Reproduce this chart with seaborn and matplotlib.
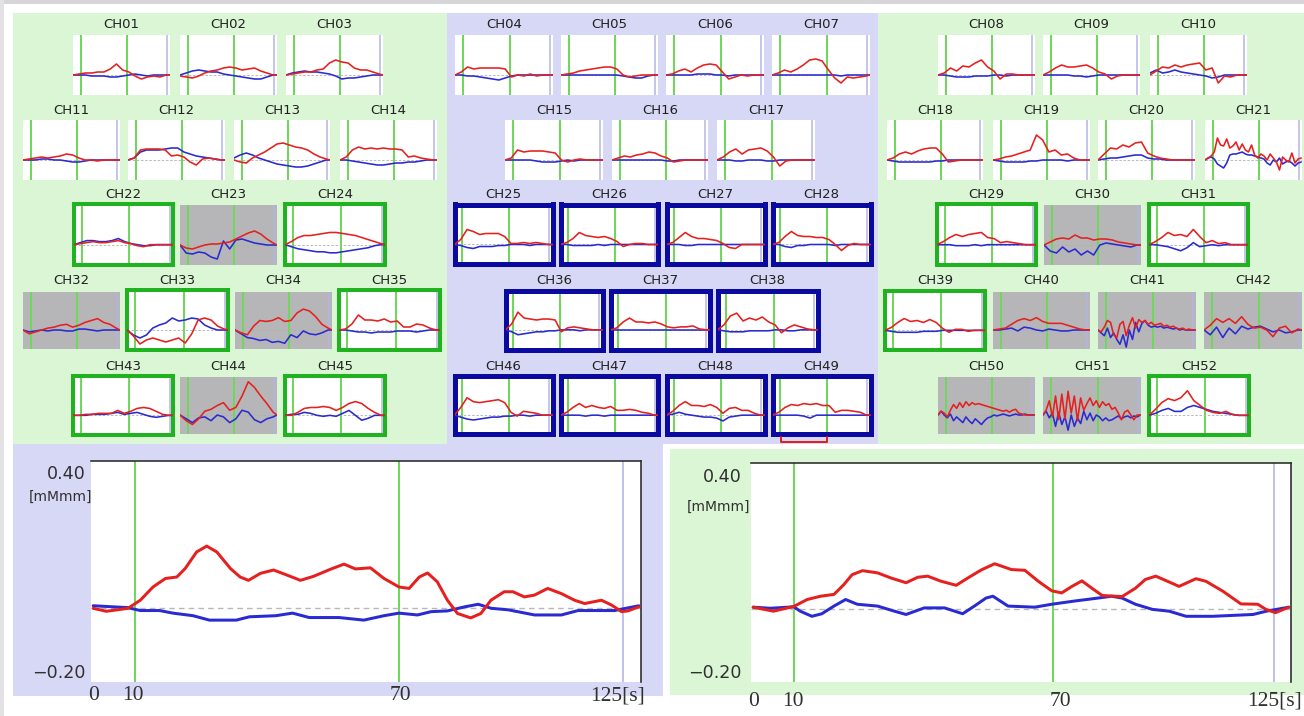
import matplotlib
matplotlib.use("Agg")
import matplotlib.pyplot as plt
from matplotlib.patches import Rectangle
from matplotlib.lines import Line2D
import seaborn as sns

# ---- data -------------------------------------------------------------
# time grids of the small channel plots [s]
T_SMALL = [0, 8, 16, 24, 32, 40, 48, 56, 64, 72, 80, 88, 96, 104, 112, 120, 125]
T_FINE = [0, 4, 8, 12, 16, 20, 24, 28, 32, 36, 40, 44, 48, 52, 56, 60,
          64, 68, 72, 76, 80, 84, 88, 92, 96, 100, 104, 108, 112, 116, 120, 124]

# oxy-Hb (red) / deoxy-Hb (blue) per channel [mMmm]
CH01_OXY = [0, 0.01, 0.02, 0.02, 0.03, 0.03, 0.06, 0.11, 0.05, 0.03, -0.01, -0.04, -0.02, -0.01, -0.02, 0, 0]
CH01_DEOXY = [0, 0, 0, -0.01, -0.01, -0.01, -0.02, -0.02, -0.01, 0, 0.01, 0, -0.01, 0, 0, 0, 0]
CH02_OXY = [-0.01, -0.02, -0.03, -0.01, 0.02, 0.04, 0.05, 0.07, 0.08, 0.07, 0.05, 0.06, 0.07, 0.04, 0.02, 0, 0]
CH02_DEOXY = [0, 0.02, 0.04, 0.05, 0.04, 0.03, 0.03, 0.01, 0, -0.01, -0.02, -0.03, -0.04, -0.04, -0.02, 0, 0]
CH03_OXY = [0, 0.01, 0.02, 0.03, 0.03, 0.05, 0.06, 0.12, 0.15, 0.13, 0.12, 0.07, 0.05, 0.05, 0.03, 0.01, 0]
CH03_DEOXY = [0, 0.02, 0.03, 0.04, 0.03, 0.03, 0.02, 0.01, -0.01, -0.04, -0.03, -0.03, -0.02, -0.01, 0, 0, 0]
CH04_OXY = [0, 0.03, 0.08, 0.06, 0.07, 0.07, 0.07, 0.07, 0.06, -0.02, 0, -0.01, 0.01, -0.01, 0, 0, 0]
CH04_DEOXY = [0, 0, -0.01, -0.01, -0.02, -0.03, -0.04, -0.05, -0.03, -0.01, 0, 0, 0, 0, 0, 0, 0]
CH05_OXY = [0, 0.01, 0.02, 0.04, 0.05, 0.06, 0.07, 0.08, 0.08, 0.06, 0, -0.02, -0.01, 0, 0, 0, 0]
CH05_DEOXY = [0, 0, 0, 0, 0, 0, 0, 0, 0, 0, -0.01, -0.02, -0.03, -0.03, -0.01, 0, 0]
CH06_OXY = [0, 0.01, 0.04, 0.06, 0.03, 0.07, 0.10, 0.11, 0.10, 0.03, -0.04, -0.02, 0, -0.01, 0, 0, 0]
CH06_DEOXY = [0, 0, 0, 0, 0, 0.01, 0.01, 0.01, 0, 0, -0.01, 0, 0, 0, 0, 0, 0]
CH07_OXY = [0, 0.02, 0.05, 0.03, 0.06, 0.10, 0.15, 0.16, 0.14, 0.05, -0.03, -0.08, -0.02, -0.03, -0.02, -0.01, 0]
CH07_DEOXY = [0, 0, 0, 0, 0, 0, 0, 0, 0, 0, 0, -0.01, 0, 0, 0, 0, 0]
CH08_OXY = [0, 0.02, 0.07, 0.04, 0.09, 0.08, 0.12, 0.15, 0.08, 0.04, -0.04, 0.01, 0.01, 0, 0, 0, 0]
CH08_DEOXY = [0, 0, -0.01, -0.02, -0.02, -0.02, -0.01, -0.01, -0.01, 0, 0, -0.01, 0, 0, 0, 0, 0]
CH09_OXY = [0, 0.03, 0.07, 0.10, 0.08, 0.08, 0.09, 0.10, 0.07, 0.03, 0.01, -0.04, -0.01, 0, 0, 0, 0]
CH09_DEOXY = [0, 0, 0, 0, 0, -0.01, -0.01, -0.02, -0.01, 0, 0, 0, 0, 0, 0, 0, 0]
CH10_OXY = [0, 0.04, 0.08, 0.07, 0.10, 0.08, 0.10, 0.11, 0.12, 0.05, 0.07, -0.08, -0.01, -0.02, 0, 0, 0]
CH10_DEOXY = [0.02, 0.05, 0.02, 0.03, 0.05, 0.03, 0.02, 0.01, 0, -0.01, -0.03, -0.02, 0, 0, 0, 0, 0]
CH11_OXY = [0, 0.01, 0.02, 0.03, 0.02, 0.03, 0.04, 0.06, 0.05, 0.02, 0, 0, -0.01, 0, 0, 0, 0]
CH11_DEOXY = [0, 0, 0, 0.01, 0.01, 0, 0, -0.01, -0.02, -0.02, -0.01, 0, 0, 0, 0, 0, 0]
CH12_OXY = [0, 0.02, 0.10, 0.11, 0.11, 0.11, 0.10, 0.04, 0.05, 0.03, -0.02, -0.05, 0.01, 0.02, 0.01, 0, 0]
CH12_DEOXY = [0, 0.02, 0.08, 0.10, 0.10, 0.10, 0.11, 0.12, 0.12, 0.08, 0.06, 0.04, 0.03, 0.02, 0.01, 0, 0]
CH13_OXY = [0, -0.02, -0.03, 0.02, 0.05, 0.08, 0.12, 0.16, 0.17, 0.15, 0.13, 0.12, 0.10, 0.06, 0.03, 0.01, 0]
CH13_DEOXY = [0.02, 0.05, 0.07, 0.05, 0.02, 0, -0.02, -0.04, -0.05, -0.06, -0.07, -0.07, -0.06, -0.04, -0.02, 0, 0]
CH14_OXY = [0, 0.03, 0.10, 0.13, 0.11, 0.12, 0.11, 0.12, 0.11, 0.11, 0.10, 0.03, 0.04, 0.02, 0.01, 0, 0]
CH14_DEOXY = [0, 0, -0.01, -0.02, -0.03, -0.04, -0.05, -0.05, -0.04, -0.03, -0.03, -0.02, -0.02, -0.01, 0, 0, 0]
CH15_OXY = [0, 0.02, 0.10, 0.08, 0.09, 0.09, 0.09, 0.08, 0.07, 0, -0.02, 0, 0.01, 0, 0, 0, 0]
CH15_DEOXY = [0, 0, 0, 0, 0, -0.01, -0.02, -0.02, -0.02, -0.01, 0, -0.01, 0, 0, 0, 0, 0]
CH16_OXY = [0, 0.02, 0.04, 0.03, 0.05, 0.06, 0.08, 0.07, 0.04, 0.02, -0.02, -0.01, 0, 0, 0, 0, 0]
CH16_DEOXY = [0, 0, 0, 0, 0, 0, 0, 0, 0, -0.01, -0.01, 0, 0, 0, 0, 0, 0]
CH17_OXY = [0, 0.03, 0.08, 0.11, 0.06, 0.10, 0.11, 0.12, 0.09, 0.03, -0.06, -0.01, 0, 0, 0, 0, 0]
CH17_DEOXY = [0, 0, 0, -0.01, -0.01, 0, 0, 0, -0.01, -0.01, 0, 0, 0, 0, 0, 0, 0]
CH18_OXY = [0, 0.02, 0.06, 0.08, 0.06, 0.09, 0.11, 0.12, 0.12, 0.06, -0.02, -0.01, 0, 0, 0, 0, 0]
CH18_DEOXY = [0, -0.01, -0.02, -0.02, -0.02, -0.02, -0.02, -0.02, -0.01, -0.01, 0, 0, 0, 0, 0, 0, 0]
CH19_OXY = [0, 0.01, 0.03, 0.04, 0.06, 0.08, 0.10, 0.25, 0.20, 0.08, 0.10, 0.05, 0.06, 0.02, 0, 0, 0]
CH19_DEOXY = [0, -0.01, -0.02, -0.02, -0.02, -0.02, -0.01, -0.01, 0, 0, 0, 0, -0.01, 0, 0, 0, 0]
CH20_OXY = [0, 0.06, 0.12, 0.11, 0.15, 0.13, 0.17, 0.18, 0.07, 0.04, 0.02, 0.01, 0, 0, 0, 0, 0]
CH20_DEOXY = [0, 0.01, 0.02, 0.02, 0.03, 0.04, 0.05, 0.05, 0.02, 0.01, 0.01, 0, 0, 0, 0, 0, 0]
CH21_OXY = [0, 0.02, 0.04, 0.08, 0.22, 0.15, 0.14, 0.21, 0.12, 0.14, 0.18, 0.10, 0.16, 0.10, 0.08, 0.15,
            0.05, 0.02, 0.06, 0.04, 0, 0.06, 0.02, -0.02, -0.10, 0.03, 0, -0.02, 0.07, -0.03, 0.01, 0.02]
CH21_DEOXY = [0, 0.02, 0.03, 0.01, -0.04, -0.06, -0.08, -0.03, 0.05, 0.06, 0.06, 0.07, 0.08, 0.06, 0.05, 0.05,
              0.04, 0.03, 0.02, 0.01, -0.03, -0.05, 0, -0.02, 0.02, -0.04, -0.02, -0.01, -0.03, -0.06, -0.03, -0.02]
CH22_OXY = [0, 0.01, 0.02, 0.03, 0.02, 0.02, 0.03, 0.04, 0.02, 0.01, -0.01, -0.02, 0, 0, 0, 0, 0]
CH22_DEOXY = [0, 0.02, 0.04, 0.04, 0.03, 0.03, 0.04, 0.06, 0.03, 0.01, 0, -0.01, -0.01, 0, 0, 0, 0]
CH23_OXY = [0, -0.03, -0.04, -0.02, 0, 0.01, 0.01, 0.02, 0.03, 0.06, 0.09, 0.12, 0.14, 0.11, 0.06, 0.02, 0]
CH23_DEOXY = [0, -0.08, -0.09, -0.07, -0.08, -0.12, -0.14, 0.04, -0.04, 0.05, 0.06, 0.04, 0.02, 0.01, 0, 0, 0]
CH24_OXY = [0, 0.03, 0.07, 0.09, 0.09, 0.10, 0.11, 0.12, 0.12, 0.11, 0.10, 0.09, 0.07, 0.05, 0.03, 0.01, 0]
CH24_DEOXY = [0, -0.02, -0.04, -0.05, -0.06, -0.07, -0.07, -0.08, -0.08, -0.07, -0.06, -0.05, -0.04, -0.03, -0.01, 0, 0]
CH25_OXY = [0, 0.05, 0.15, 0.13, 0.10, 0.11, 0.11, 0.11, 0.08, 0.01, 0.01, 0.02, 0.01, 0.02, 0.01, 0, 0]
CH25_DEOXY = [0, -0.01, -0.03, -0.04, -0.02, -0.02, -0.02, -0.01, -0.01, 0, 0, 0, -0.01, 0, 0, 0, 0]
CH26_OXY = [0, 0.02, 0.06, 0.12, 0.09, 0.08, 0.07, 0.08, 0.06, 0.03, -0.02, 0, 0.01, 0.01, 0, 0, 0]
CH26_DEOXY = [0, 0, -0.01, -0.01, -0.01, -0.01, 0, -0.01, 0, 0, 0, 0, 0, 0, 0, 0, 0]
CH27_OXY = [0, 0.02, 0.07, 0.12, 0.08, 0.06, 0.06, 0.05, 0.04, 0.01, -0.03, -0.04, 0, 0, 0, 0, 0]
CH27_DEOXY = [0, 0, 0, -0.01, -0.01, 0, 0, 0, 0, 0, 0, 0, 0, 0, 0, 0, 0]
CH28_OXY = [0, 0.02, 0.08, 0.13, 0.09, 0.08, 0.08, 0.07, 0.07, 0.05, 0, -0.06, -0.01, 0.01, 0, 0, 0]
CH28_DEOXY = [0, 0, -0.02, -0.03, -0.01, -0.01, 0, 0, 0, 0, -0.01, 0, 0, 0, 0, 0, 0]
CH29_OXY = [0, 0.03, 0.07, 0.10, 0.08, 0.10, 0.11, 0.12, 0.07, 0.06, 0.02, 0.03, 0.02, 0.01, 0, 0, 0]
CH29_DEOXY = [0, 0, 0, -0.01, -0.01, -0.01, 0, -0.01, 0, 0, 0, 0, 0, 0, 0, 0, 0]
CH30_OXY = [0, 0.03, 0.06, 0.07, 0.06, 0.10, 0.07, 0.07, 0.05, 0.06, 0.06, 0.05, 0.03, 0.02, 0.01, 0, 0]
CH30_DEOXY = [0, -0.06, -0.08, -0.02, -0.07, -0.04, -0.10, -0.06, -0.10, 0, 0.02, 0.01, 0, -0.01, -0.02, 0, 0]
CH31_OXY = [0, 0.03, 0.07, 0.12, 0.09, 0.10, 0.08, 0.15, 0.08, 0.02, 0.04, 0.01, 0.02, 0, 0, 0, 0]
CH31_DEOXY = [0, 0, -0.01, -0.02, -0.04, -0.06, -0.03, 0.02, -0.02, -0.01, 0, -0.01, 0, 0, 0, 0, 0]
CH32_OXY = [0, -0.04, -0.02, 0, 0.02, 0.03, 0.05, 0.06, 0.03, 0.05, 0.08, 0.10, 0.12, 0.08, 0.06, 0.02, 0]
CH32_DEOXY = [0, -0.02, -0.01, 0, -0.01, 0, 0, -0.01, -0.01, 0.01, 0.01, 0, -0.01, 0, 0, 0, 0]
CH33_OXY = [0, -0.06, -0.14, -0.10, -0.08, -0.10, -0.12, -0.10, -0.08, -0.13, -0.04, 0.10, 0.12, 0.10, 0.04, 0.01, 0]
CH33_DEOXY = [0, -0.05, -0.08, -0.05, 0.02, 0.05, 0.07, 0.12, 0.09, 0.10, 0.12, 0.11, 0.05, 0.02, 0, 0, 0]
CH34_OXY = [0, -0.03, -0.05, 0.04, 0.10, 0.09, 0.10, 0.13, 0.09, 0.10, 0.18, 0.22, 0.20, 0.14, 0.06, 0.02, 0]
CH34_DEOXY = [0, -0.04, -0.08, -0.09, -0.11, -0.10, -0.13, -0.12, -0.14, -0.05, -0.08, -0.01, -0.04, -0.05, -0.03, 0, 0]
CH35_OXY = [0, 0.01, 0.06, 0.15, 0.10, 0.10, 0.09, 0.11, 0.08, 0.09, 0.03, 0.03, 0.06, 0.05, 0.02, 0, 0]
CH35_DEOXY = [0, 0, -0.01, -0.02, -0.02, -0.03, -0.02, -0.02, -0.02, -0.01, -0.01, -0.01, -0.02, -0.01, 0, 0, 0]
CH36_OXY = [0, 0.06, 0.18, 0.12, 0.11, 0.10, 0.11, 0.11, 0.10, -0.02, 0.02, 0.03, 0.02, 0.01, 0, 0, 0]
CH36_DEOXY = [0, -0.02, -0.05, -0.04, -0.03, -0.02, -0.02, -0.01, -0.01, 0, 0, 0, -0.01, 0, 0, 0, 0]
CH37_OXY = [0, 0.02, 0.08, 0.12, 0.08, 0.08, 0.07, 0.08, 0.06, 0.03, 0.02, 0.03, 0.03, 0.04, 0.01, 0, 0]
CH37_DEOXY = [0, 0, 0, 0, 0, 0, 0, 0, 0, 0, 0, 0, 0, 0, 0, 0, 0]
CH38_OXY = [0, 0.05, 0.14, 0.17, 0.09, 0.12, 0.10, 0.13, 0.08, 0.05, -0.03, 0.02, 0.05, 0.03, 0.01, 0, 0]
CH38_DEOXY = [0, -0.01, -0.02, -0.02, -0.02, -0.01, -0.01, -0.01, -0.01, 0, 0, -0.01, -0.01, 0, 0, 0, 0]
CH39_OXY = [0, 0.03, 0.08, 0.12, 0.09, 0.10, 0.08, 0.11, 0.08, 0.02, -0.02, 0.01, 0.01, -0.01, 0, 0, 0]
CH39_DEOXY = [0, -0.01, -0.02, -0.02, -0.02, -0.02, -0.01, -0.01, -0.01, 0, 0, 0, 0, 0, 0, 0, 0]
CH40_OXY = [0, 0.01, 0.02, 0.06, 0.10, 0.12, 0.10, 0.13, 0.09, 0.07, 0.07, 0.07, 0.05, 0.03, 0.01, 0, 0]
CH40_DEOXY = [0, 0, 0.01, 0.02, -0.01, 0.03, 0.02, 0, -0.01, 0.01, 0, -0.01, -0.01, 0, 0, 0, 0]
CH41_OXY = [0, -0.02, 0.03, 0.10, 0.08, -0.05, -0.08, 0.06, 0.09, -0.06, 0.05, 0.13, 0.02, 0.11, 0.08, 0.10,
            0.06, 0.08, 0.05, 0.06, 0.07, 0.04, 0.05, 0.03, 0.04, 0.02, 0.01, 0.02, 0, 0.01, 0, 0]
CH41_DEOXY = [0, -0.03, -0.06, 0.02, -0.08, -0.03, -0.10, -0.15, -0.05, -0.18, 0, -0.10, 0.08, -0.02, 0.07, 0.10,
              0.05, 0.03, 0.04, 0.03, 0.04, 0.02, 0.03, 0.02, 0.01, 0.02, 0, 0.01, 0, 0, 0, 0]
CH42_OXY = [0, 0.05, 0.12, 0.08, 0.12, 0.07, 0.14, 0.06, 0.02, 0.03, 0, -0.07, 0.02, 0.04, -0.03, 0.01, 0]
CH42_DEOXY = [0, -0.05, 0.03, -0.08, 0.02, -0.04, 0.04, 0.01, 0.03, 0.04, 0.01, -0.02, 0, -0.03, -0.02, 0, 0]
CH43_OXY = [0, 0, 0.01, 0.01, 0.02, 0.02, 0.02, 0.05, 0.02, 0.04, 0.07, 0.08, 0.07, 0.04, 0.01, 0, 0]
CH43_DEOXY = [0, 0, 0, 0.01, 0.01, 0.01, 0.02, 0.03, 0.01, 0.02, 0.03, 0.01, -0.01, -0.02, -0.01, 0, 0]
CH44_OXY = [0, -0.06, -0.10, -0.04, 0.04, 0.06, 0.10, 0.13, 0.05, 0.08, 0.20, 0.35, 0.29, 0.20, 0.12, 0.03, 0]
CH44_DEOXY = [0, -0.04, -0.08, -0.03, -0.02, -0.06, 0, -0.02, -0.08, -0.04, 0.05, 0.03, -0.05, -0.08, -0.04, -0.02, 0]
CH45_OXY = [0, 0, 0.03, 0.07, 0.08, 0.08, 0.09, 0.08, 0.05, 0.08, 0.12, 0.14, 0.12, 0.07, 0.03, 0, 0]
CH45_DEOXY = [0, 0.01, 0.01, 0.03, 0.02, 0, -0.01, 0, -0.01, 0.02, 0.05, 0, -0.05, -0.03, 0, 0, 0]
CH46_OXY = [0, 0.08, 0.18, 0.14, 0.13, 0.14, 0.15, 0.16, 0.13, 0.03, -0.01, 0.04, 0.03, 0.02, 0, 0, 0]
CH46_DEOXY = [0, -0.02, -0.04, -0.05, -0.04, -0.03, -0.02, -0.02, -0.01, -0.01, 0, 0, -0.01, 0, 0, 0, 0]
CH47_OXY = [0, 0.03, 0.08, 0.12, 0.08, 0.10, 0.08, 0.07, 0.09, 0.05, 0.05, 0.06, 0.05, 0.03, 0.02, 0, 0]
CH47_DEOXY = [0, 0, 0, 0, -0.01, 0, 0, -0.01, 0, 0, 0, 0, 0, 0, 0, 0, 0]
CH48_OXY = [0, 0.04, 0.10, 0.14, 0.10, 0.10, 0.09, 0.11, 0.08, 0.02, 0.07, 0.08, 0.05, 0.05, 0.02, 0, 0]
CH48_DEOXY = [0, 0.01, 0.03, 0.01, 0, -0.01, -0.02, -0.02, -0.03, -0.06, -0.02, -0.01, 0, 0, 0, 0, 0]
CH49_OXY = [0, 0.03, 0.08, 0.11, 0.10, 0.12, 0.11, 0.12, 0.10, 0.10, 0.03, 0.05, 0.05, 0.04, 0.03, 0, 0]
CH49_DEOXY = [0, 0, 0, 0, 0, -0.01, -0.03, 0, 0, 0, 0, 0, 0, 0, 0, 0, 0]
CH50_OXY = [0, 0.04, 0.02, -0.02, 0.05, 0.11, 0.07, 0.13, 0.08, 0.14, 0.10, 0.13, 0.11, 0.12, 0.11, 0.10,
            0.09, 0.08, 0.07, 0.06, 0.05, 0.04, 0.05, 0.03, 0.05, 0.06, 0.02, 0.01, 0, 0, 0, 0]
CH50_DEOXY = [0, 0.04, 0, -0.03, 0.01, -0.06, -0.02, -0.05, -0.08, -0.02, -0.06, -0.09, -0.04, -0.07, -0.10, -0.06,
              -0.03, -0.02, 0, -0.01, 0, 0.01, 0, -0.01, 0, 0.01, 0, 0, 0.01, 0, 0, 0]
CH51_OXY = [0, 0.05, 0.15, -0.02, 0.20, -0.05, 0.22, -0.04, 0.25, 0.02, 0.20, -0.06, 0.18, 0.05, 0.12, 0.18,
            0.10, 0.15, 0.08, 0.14, 0.10, 0.12, 0.06, 0.08, 0.02, -0.05, 0.03, 0.05, 0, -0.05, 0, 0]
CH51_DEOXY = [0, 0.04, -0.03, 0.02, -0.12, 0.03, -0.10, -0.02, -0.16, 0, -0.12, -0.03, -0.09, 0.04, -0.05, 0.02,
              -0.06, 0, -0.02, -0.06, -0.03, -0.06, -0.05, -0.03, -0.01, -0.04, -0.02, -0.01, -0.03, -0.01, -0.02, 0]
CH52_OXY = [0, 0.06, 0.13, 0.17, 0.15, 0.18, 0.25, 0.15, 0.10, 0.05, 0.03, 0.02, 0.04, 0.01, 0, 0, 0]
CH52_DEOXY = [0, 0.02, 0.05, 0.07, 0.04, 0.04, 0.08, 0.10, 0.08, 0.06, 0.04, 0.03, 0.02, 0.01, 0, 0, 0]

# enlarged channels (bottom left / bottom right)
LEFT_OXY_T = [0.5, 3.5, 8.4, 11.2, 14.1, 16.9, 19.5, 21.4, 24, 26.3, 28.6, 31.7, 33.9, 35.8, 38.5, 41.5,
              44.6, 47.6, 50.6, 54.4, 57.5, 60.1, 63.5, 66.6, 70, 72.3, 74.6, 76.5, 78.7, 81, 83.3, 86.3,
              88.6, 90.9, 93.9, 95.9, 98.5, 100.8, 103.8, 106.9, 109.9, 112.2, 116, 118.3, 120.6, 122, 124.5]
LEFT_OXY = [0, -0.008, 0, 0.022, 0.058, 0.081, 0.085, 0.108, 0.153, 0.169, 0.153, 0.108, 0.085, 0.076, 0.095, 0.104,
            0.09, 0.076, 0.087, 0.106, 0.12, 0.107, 0.11, 0.081, 0.058, 0.054, 0.085, 0.096, 0.072, 0.022, -0.014, -0.026,
            -0.014, 0.022, 0.045, 0.045, 0.031, 0.036, 0.054, 0.04, 0.022, 0.013, 0.022, 0.009, -0.009, -0.007, 0.004]
LEFT_DEOXY_T = [0.5, 8.3, 11.2, 15.6, 18.6, 23.2, 26.9, 33, 36, 42, 45.8, 49.6, 56.4, 62, 66.6, 70,
                74.2, 77.3, 81, 84.9, 88, 91, 94.8, 100.8, 106.9, 110.7, 119, 124.5]
LEFT_DEOXY = [0.007, 0.002, -0.006, -0.006, -0.013, -0.02, -0.032, -0.032, -0.023, -0.02, -0.013, -0.025, -0.025, -0.032, -0.02, -0.013,
              -0.018, -0.009, -0.007, 0.004, 0.011, 0, -0.004, -0.018, -0.018, -0.006, -0.006, 0.007]
RIGHT_OXY_T = [0.5, 5.2, 9.9, 13, 16.1, 19.2, 21.5, 23.4, 25.8, 29.3, 32.4, 35.9, 38.6, 40.9, 44, 47.5,
               50.2, 53.3, 56.4, 60.3, 63.4, 66.5, 69.6, 71.9, 74.3, 76.6, 78.9, 81.3, 85.9, 89, 91.3, 93.7,
               96.4, 99.1, 103, 105.3, 109.2, 113.4, 117.3, 119.2, 121.4, 124.5]
RIGHT_OXY = [0.005, -0.006, 0.007, 0.026, 0.035, 0.04, 0.067, 0.094, 0.105, 0.099, 0.085, 0.072, 0.087, 0.09, 0.076, 0.065,
             0.085, 0.107, 0.124, 0.108, 0.106, 0.076, 0.05, 0.044, 0.062, 0.077, 0.057, 0.037, 0.034, 0.057, 0.081, 0.09,
             0.076, 0.062, 0.083, 0.076, 0.049, 0.014, 0.013, -0.001, -0.01, 0.005]
RIGHT_DEOXY_T = [0.5, 4.5, 9.9, 11.4, 14.1, 16.4, 19.2, 21.9, 24.6, 29.3, 33.2, 35.9, 40.1, 44.8, 49, 51.7,
                 54.4, 56, 59.5, 65.7, 69.6, 75, 79.7, 83.5, 85.9, 89, 92.9, 96.8, 100.7, 106.9, 116.2, 119.3, 124.5]
RIGHT_DEOXY = [0.005, 0.002, 0.006, -0.006, -0.02, -0.013, 0.008, 0.026, 0.013, 0.008, -0.006, -0.015, 0.003, 0.003, -0.013, 0.008,
               0.03, 0.035, 0.008, 0.005, 0.013, 0.022, 0.029, 0.035, 0.03, 0.013, -0.001, -0.006, -0.02, -0.02, -0.015, -0.006, 0.005]

TASK_MARKS = [10, 70]
END_MARK = 121
Y_TOP_LABEL = "0.40"
Y_BOTTOM_LABEL = "\u22120.20"
Y_UNIT = "[mMmm]"
X_TICK_LABELS = ["0", "10", "70", "125[s]"]

# ---- layout (pixels) --------------------------------------------------
W, H = 1304, 716
ROW_TITLE_Y = [25, 111, 195, 281, 366]
# channel, row, x0, y0, x1, y1, style (w plain, s gray, g green frame, b blue frame)
PANELS = [
    (1, 0, 73, 35, 170, 95, 'w'), (2, 0, 180, 35, 277, 95, 'w'), (3, 0, 286, 35, 383, 95, 'w'),
    (4, 0, 455, 35, 553, 95, 'w'), (5, 0, 561, 35, 658, 95, 'w'), (6, 0, 666, 35, 764, 95, 'w'),
    (7, 0, 772, 35, 870, 95, 'w'),
    (8, 0, 938, 35, 1035, 95, 'w'), (9, 0, 1043, 35, 1140, 95, 'w'), (10, 0, 1150, 35, 1247, 95, 'w'),
    (11, 1, 23, 120, 120, 180, 'w'), (12, 1, 128, 120, 225, 180, 'w'), (13, 1, 234, 120, 330, 180, 'w'),
    (14, 1, 340, 120, 437, 180, 'w'),
    (15, 1, 505, 120, 603, 180, 'w'), (16, 1, 612, 120, 708, 180, 'w'), (17, 1, 717, 120, 815, 180, 'w'),
    (18, 1, 887, 120, 983, 180, 'w'), (19, 1, 993, 120, 1090, 180, 'w'), (20, 1, 1098, 120, 1195, 180, 'w'),
    (21, 1, 1205, 120, 1302, 180, 'w'),
    (22, 2, 72, 202, 175, 267, 'g'), (23, 2, 180, 205, 277, 265, 's'), (24, 2, 283, 202, 387, 267, 'g'),
    (25, 2, 452, 202, 555, 267, 'b'), (26, 2, 558, 202, 661, 267, 'b'), (27, 2, 664, 202, 767, 267, 'b'),
    (28, 2, 770, 202, 873, 267, 'b'),
    (29, 2, 935, 202, 1038, 267, 'g'), (30, 2, 1044, 205, 1141, 265, 's'), (31, 2, 1147, 202, 1250, 267, 'g'),
    (32, 3, 23, 292, 120, 349, 's'), (33, 3, 125, 288, 230, 352, 'g'), (34, 3, 235, 292, 332, 349, 's'),
    (35, 3, 337, 288, 442, 352, 'g'),
    (36, 3, 503, 288, 605, 352, 'b'), (37, 3, 608, 288, 712, 352, 'b'), (38, 3, 715, 288, 820, 352, 'b'),
    (39, 3, 883, 289, 987, 352, 'g'), (40, 3, 993, 292, 1090, 349, 's'), (41, 3, 1098, 292, 1196, 349, 's'),
    (42, 3, 1204, 292, 1302, 349, 's'),
    (43, 4, 71, 374, 175, 437, 'g'), (44, 4, 180, 377, 277, 434, 's'), (45, 4, 283, 374, 387, 437, 'g'),
    (46, 4, 452, 374, 555, 437, 'b'), (47, 4, 558, 374, 661, 437, 'b'), (48, 4, 664, 374, 767, 437, 'b'),
    (49, 4, 770, 374, 873, 437, 'b'),
    (50, 4, 938, 377, 1035, 434, 's'), (51, 4, 1043, 377, 1141, 434, 's'), (52, 4, 1147, 374, 1251, 437, 'g'),
]

GREEN_BG = '#dbf6d5'
LAV_BG = '#d7d7f6'
GRAY_FILL = '#b6b6b8'
MARK_GREEN = '#6fd85a'
MARK_LAV = '#b4b4e4'
OXY_RED = '#e5201e'
DEOXY_BLUE = '#2a2ad2'
FRAME = {'g': ('#1fb31f', 4), 'b': ('#0a0aa0', 5)}
PX = 0.72  # points per pixel at dpi 100

sns.set_style("white")
plt.rcParams['font.family'] = ['DejaVu Sans']

fig = plt.figure(figsize=(W / 100, H / 100), dpi=100)
fig.patch.set_facecolor('white')


def frac(x0, y0, x1, y1):
    return [x0 / W, 1 - y1 / H, (x1 - x0) / W, (y1 - y0) / H]


def bg(x0, y0, x1, y1, color):
    l, b, w, h = frac(x0, y0, x1, y1)
    fig.add_artist(Rectangle((l, b), w, h, transform=fig.transFigure,
                             facecolor=color, edgecolor='none', zorder=-5))


def ftext(x, y, s, **kw):
    fig.text(x / W, 1 - y / H, s, **kw)


# background panels
bg(0, 0, W, 4, '#d6d6d8')
bg(0, 0, 4, H, '#e2e2e4')
bg(13, 13, 447, 444, GREEN_BG)
bg(447, 13, 878, 444, LAV_BG)
bg(878, 13, W, 444, GREEN_BG)
bg(13, 444, 663, 696, LAV_BG)
bg(670, 449, W, 695, GREEN_BG)

# small channel plots
for ch, row, x0, y0, x1, y1, style in PANELS:
    if style in FRAME:
        fcol, fpx = FRAME[style]
        ins = fpx / 2
        ax = fig.add_axes(frac(x0 + ins, y0 + ins, x1 - ins, y1 - ins))
        for sp in ax.spines.values():
            sp.set_visible(True)
            sp.set_color(fcol)
            sp.set_linewidth(fpx * PX)
    else:
        ax = fig.add_axes(frac(x0, y0, x1, y1))
        for sp in ax.spines.values():
            sp.set_visible(False)
    ax.set_facecolor(GRAY_FILL if style == 's' else 'white')
    oxy = globals()[f"CH{ch:02d}_OXY"]
    deoxy = globals()[f"CH{ch:02d}_DEOXY"]
    t = T_FINE if len(oxy) == len(T_FINE) else T_SMALL
    for m in TASK_MARKS:
        ax.axvline(m, color=MARK_GREEN, lw=2 * PX, zorder=1)
    ax.axvline(END_MARK, color=MARK_LAV, lw=1.5 * PX, zorder=1)
    ax.axhline(0, color='#b0b0b0', lw=0.6, ls=(0, (3, 2)), zorder=1)
    sns.lineplot(x=t, y=deoxy, ax=ax, color=DEOXY_BLUE, lw=1.6 * PX, zorder=3)
    sns.lineplot(x=t, y=oxy, ax=ax, color=OXY_RED, lw=1.6 * PX, zorder=4)
    ax.set_xlim(0, 125)
    ax.set_ylim(-0.2, 0.4)
    ax.set_xticks([])
    ax.set_yticks([])
    ax.set_xlabel('')
    ax.set_ylabel('')
    ftext((x0 + x1) / 2, ROW_TITLE_Y[row], f"CH{ch:02d}", ha='center', va='center',
          fontsize=9.5, color='#202020')

# red marker under CH49
fig.add_artist(Line2D([x / W for x in [781, 781, 827, 827]], [1 - y / H for y in [437, 442, 442, 437]],
                      transform=fig.transFigure, color='#e02020', lw=2 * PX))


# enlarged channel plots
def big_panel(rect, oxy_t, oxy, deoxy_t, deoxy, lab):
    ax = fig.add_axes(frac(*rect))
    ax.set_facecolor('white')
    for side in ('left', 'bottom'):
        ax.spines[side].set_visible(False)
    for side in ('top', 'right'):
        ax.spines[side].set_visible(True)
        ax.spines[side].set_color('#2a2a2a')
        ax.spines[side].set_linewidth(1.6 * PX)
    for m in TASK_MARKS:
        ax.axvline(m, color=MARK_GREEN, lw=2 * PX, zorder=1)
    ax.axvline(END_MARK, color=MARK_LAV, lw=1.6 * PX, zorder=1)
    ax.axhline(0, color='#b8b8b8', lw=1.0, ls=(0, (4, 3)), zorder=1)
    sns.lineplot(x=deoxy_t, y=deoxy, ax=ax, color=DEOXY_BLUE, lw=3 * PX, zorder=3)
    sns.lineplot(x=oxy_t, y=oxy, ax=ax, color=OXY_RED, lw=3 * PX, zorder=4)
    ax.set_xlim(0, 125)
    ax.set_ylim(-0.2, 0.4)
    ax.set_xticks([])
    ax.set_yticks([])
    ax.set_xlabel('')
    ax.set_ylabel('')
    # value labels
    ftext(lab['yr'], lab['ytop'], Y_TOP_LABEL, ha='right', va='center', fontsize=12.6, color='#303030')
    ftext(lab['ux'], lab['uy'], Y_UNIT, ha='center', va='center', fontsize=10, color='#303030')
    ftext(lab['yr'], lab['ybot'], Y_BOTTOM_LABEL, ha='right', va='center', fontsize=12.6, color='#303030')
    for x, txt, ha in zip(lab['tx'], X_TICK_LABELS, lab['tha']):
        ftext(x, lab['ty'], txt, ha=ha, va='center', fontsize=15.5,
              family='Liberation Serif', color='#303030')


big_panel((91, 461, 641, 682), LEFT_OXY_T, LEFT_OXY, LEFT_DEOXY_T, LEFT_DEOXY,
          dict(yr=86, ytop=474, ux=61, uy=497, ybot=673, tx=[94, 133, 400, 590], ty=696,
               tha=['center', 'center', 'center', 'left']))
big_panel((751, 463, 1291, 682), RIGHT_OXY_T, RIGHT_OXY, RIGHT_DEOXY_T, RIGHT_DEOXY,
          dict(yr=742, ytop=477, ux=719, uy=507, ybot=673, tx=[754, 793, 1060, 1302], ty=701,
               tha=['center', 'center', 'center', 'right']))

fig.savefig('out.png', dpi=100, facecolor=fig.get_facecolor())
